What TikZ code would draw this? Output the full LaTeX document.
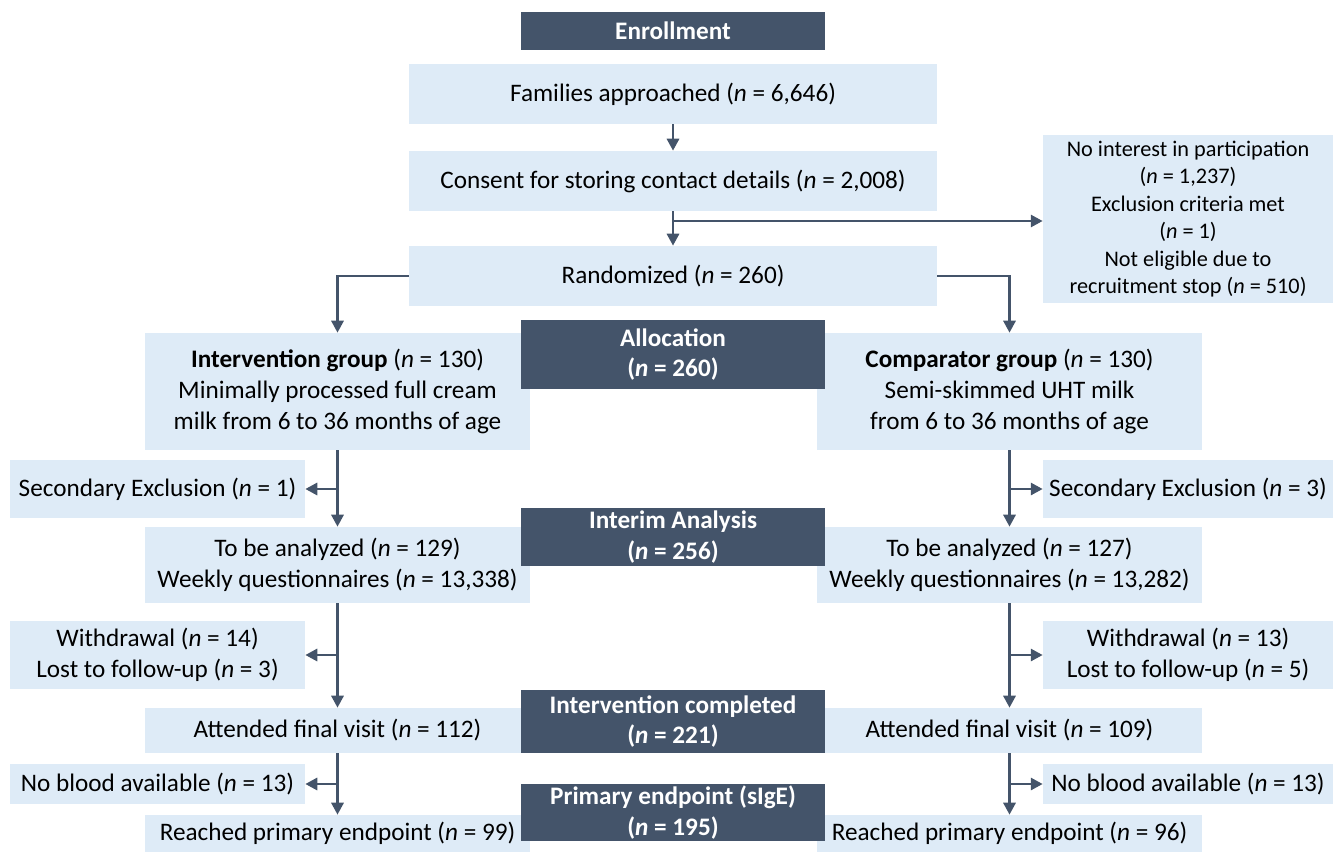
\documentclass[tikz,border=0pt]{standalone}
\usepackage{fontspec}
\setmainfont{Carlito}
\usetikzlibrary{arrows.meta}
\definecolor{paleblue}{HTML}{DEEBF7}
\definecolor{slate}{HTML}{44546A}
\tikzset{
	box/.style={fill=paleblue, inner sep=0pt, align=center, font=\fontsize{18.9}{23}\selectfont},
	headbox/.style={fill=slate, text=white, inner sep=0pt, align=center, minimum width=228pt, font=\fontsize{18.9}{23}\selectfont\bfseries},
	flow/.style={draw=slate, line width=2.2pt, -{Triangle[length=9pt,width=9pt]}}
}
\newcommand{\nn}[1]{(\textit{n} = #1)}
\begin{document}
\begin{tikzpicture}[x=0.75pt,y=-0.75pt]
	\useasboundingbox (0,0) rectangle (1333,852);
	\node[box, minimum width=396pt, minimum height=45pt] (fam) at (673,94) {Families approached \nn{6,646}};
	\node[box, minimum width=396pt, minimum height=45pt] (cons) at (673,181) {Consent for storing contact details \nn{2,008}};
	\node[box, minimum width=396pt, minimum height=45pt] (rand) at (673,276) {Randomized \nn{260}};
	\node[box, minimum width=217.5pt, minimum height=126pt, font=\fontsize{16.7}{20.6}\selectfont] (excl) at (1188,219)
		{No interest in participation\\\nn{1,237}\\Exclusion criteria met\\\nn{1}\\Not eligible due to\\recruitment stop \nn{510}};
	\node[box, minimum width=288.75pt, minimum height=87.75pt] (intv) at (337.5,391.5)
		{\textbf{Intervention group} \nn{130}\\Minimally processed full cream\\milk from 6 to 36 months of age};
	\node[box, minimum width=288.75pt, minimum height=87.75pt] (comp) at (1009.5,391.5)
		{\textbf{Comparator group} \nn{130}\\Semi-skimmed UHT milk\\from 6 to 36 months of age};
	\node[box, minimum width=221.25pt, minimum height=43.5pt] (secL) at (157.5,489) {Secondary Exclusion \nn{1}};
	\node[box, minimum width=217.5pt, minimum height=43.5pt] (secR) at (1188,489) {Secondary Exclusion \nn{3}};
	\node[box, minimum width=288.75pt, minimum height=57pt] (anaL) at (337.5,565)
		{To be analyzed \nn{129}\\Weekly questionnaires \nn{13,338}};
	\node[box, minimum width=288.75pt, minimum height=57pt] (anaR) at (1009.5,565)
		{To be analyzed \nn{127}\\Weekly questionnaires \nn{13,282}};
	\node[box, minimum width=221.25pt, minimum height=51pt] (wdL) at (157.5,655)
		{Withdrawal \nn{14}\\Lost to follow-up \nn{3}};
	\node[box, minimum width=217.5pt, minimum height=51pt] (wdR) at (1188,655)
		{Withdrawal \nn{13}\\Lost to follow-up \nn{5}};
	\node[box, minimum width=288.75pt, minimum height=33.75pt] (finL) at (337.5,730.5) {Attended final visit \nn{112}};
	\node[box, minimum width=288.75pt, minimum height=33.75pt] (finR) at (1009.5,730.5) {Attended final visit \nn{109}};
	\node[box, minimum width=221.25pt, minimum height=30pt] (bloodL) at (157.5,784) {No blood available \nn{13}};
	\node[box, minimum width=217.5pt, minimum height=30pt] (bloodR) at (1188,784) {No blood available \nn{13}};
	\node[box, minimum width=288.75pt, minimum height=27.75pt] (endL) at (337.5,833.5) {Reached primary endpoint \nn{99}};
	\node[box, minimum width=288.75pt, minimum height=27.75pt] (endR) at (1009.5,833.5) {Reached primary endpoint \nn{96}};
	\node[headbox, minimum height=28.5pt] (enrol) at (673,31) {Enrollment};
	\node[headbox, minimum height=51.75pt] (alloc) at (673,354.5) {Allocation\\\nn{260}};
	\node[headbox, minimum height=43.5pt] (interim) at (673,537) {Interim Analysis\\\nn{256}};
	\node[headbox, minimum height=47.25pt] (done) at (673,721.5) {Intervention completed\\\nn{221}};
	\node[headbox, minimum height=42.75pt] (prim) at (673,812.5) {Primary endpoint (sIgE)\\\nn{195}};
	\draw[flow] (fam) -- (cons);
	\draw[flow] (cons) -- (rand);
	\coordinate (split) at (673,221);
	\draw[flow] (split) -- (split -| excl.west);
	\draw[flow] (rand.west) -| (intv.north);
	\draw[flow] (rand.east) -| (comp.north);
	\draw[flow] (intv) -- (anaL);
	\draw[flow] (comp) -- (anaR);
	\draw[flow] (intv.south |- secL.east) -- (secL.east);
	\draw[flow] (comp.south |- secR.west) -- (secR.west);
	\draw[flow] (anaL) -- (finL);
	\draw[flow] (anaR) -- (finR);
	\draw[flow] (anaL.south |- wdL.east) -- (wdL.east);
	\draw[flow] (anaR.south |- wdR.west) -- (wdR.west);
	\draw[flow] (finL) -- (endL);
	\draw[flow] (finR) -- (endR);
	\draw[flow] (finL.south |- bloodL.east) -- (bloodL.east);
	\draw[flow] (finR.south |- bloodR.west) -- (bloodR.west);
\end{tikzpicture}
\end{document}
